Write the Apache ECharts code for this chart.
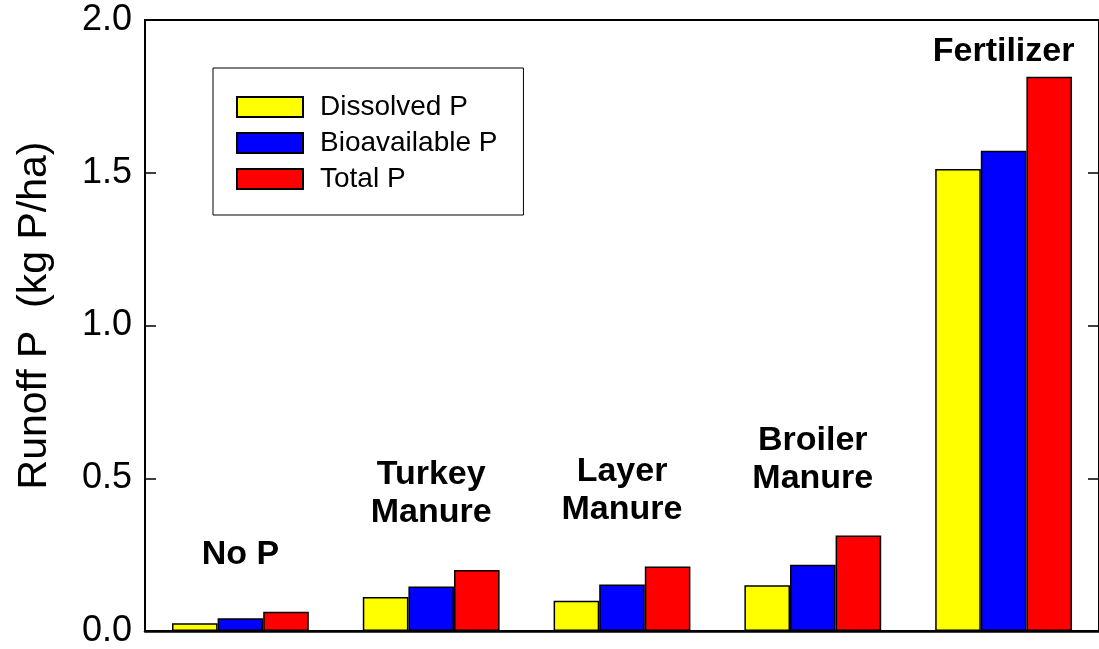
<!DOCTYPE html>
<html>
<head>
<meta charset="utf-8">
<script src="https://cdn.jsdelivr.net/npm/echarts@6/dist/echarts.min.js"></script>
<style>
html,body{margin:0;padding:0;background:#fff;}
#chart{width:1099px;height:649px;}
</style>
</head>
<body>
<div id="chart"></div>
<script>
const categories = ['No P', 'Turkey\nManure', 'Layer\nManure', 'Broiler\nManure', 'Fertilizer'];
const seriesNames = ['Dissolved P', 'Bioavailable P', 'Total P'];
const dissolvedP = [0.025, 0.111, 0.099, 0.150, 1.512];
const bioavailableP = [0.042, 0.146, 0.152, 0.217, 1.572];
const totalP = [0.063, 0.200, 0.211, 0.313, 1.814];
const yTicks = [0, 0.5, 1.0, 1.5, 2.0];

const colors = ['#ffff00', '#0000ff', '#ff0000'];
const FONT = '"Liberation Sans", Arial, sans-serif';

const seriesData = [dissolvedP, bioavailableP, totalP];
const barSeries = seriesData.map((d, k) => ({
  name: seriesNames[k],
  type: 'bar',
  data: d,
  barWidth: 45.6,
  barGap: '0%',
  itemStyle: { color: colors[k], borderColor: '#000', borderWidth: 1.5 },
  emphasis: { disabled: true },
  animation: false
}));

const labelAnchors = categories.map((c, i) => {
  const m = Math.max(dissolvedP[i], bioavailableP[i], totalP[i]);
  const item = { value: [i, m] };
  if (m > 1.7) item.label = { distance: 6 };
  return item;
});

const chart = echarts.init(document.getElementById('chart'), null, { renderer: 'canvas' });
chart.setOption({
  animation: false,
  backgroundColor: '#fff',
  grid: { left: 145, top: 20, width: 962, height: 611, show: true, borderColor: '#000', borderWidth: 2, backgroundColor: 'transparent' },
  legend: {
    data: seriesNames,
    orient: 'vertical',
    left: 213, top: 68,
    padding: [25, 26, 22, 23],
    itemWidth: 66, itemHeight: 20, itemGap: 8,
    borderColor: '#000', borderWidth: 1,
    icon: 'rect',
    textStyle: { fontFamily: FONT, fontSize: 28, color: '#000', padding: [0, 0, 0, 12] },
    selectedMode: false
  },
  xAxis: {
    type: 'category',
    data: categories,
    axisLine: { show: true, lineStyle: { color: '#000', width: 2.5 } },
    axisTick: { show: false },
    axisLabel: { show: false },
    splitLine: { show: false }
  },
  yAxis: [{
    type: 'value',
    min: 0, max: 2, interval: 0.5,
    name: 'Runoff P  (kg P/ha)',
    nameLocation: 'middle',
    nameGap: 90,
    nameTextStyle: { fontFamily: FONT, fontSize: 41, color: '#000', padding: [0, 0, 0, 20] },
    axisLine: { show: true, lineStyle: { color: '#000', width: 2 } },
    axisTick: { show: true, inside: true, length: 11, lineStyle: { color: '#000', width: 1.5 } },
    axisLabel: { fontFamily: FONT, fontSize: 36, color: '#000', margin: 13, formatter: v => v.toFixed(1) },
    splitLine: { show: false }
  }, {
    type: 'value',
    position: 'right',
    min: 0, max: 2, interval: 0.5,
    axisLine: { show: true, lineStyle: { color: '#000', width: 2 } },
    axisTick: { show: true, inside: true, length: 11, lineStyle: { color: '#000', width: 1.5 } },
    axisLabel: { show: false },
    splitLine: { show: false }
  }],
  series: barSeries.concat([{
    type: 'scatter',
    data: labelAnchors,
    symbolSize: 0,
    silent: true,
    itemStyle: { opacity: 1 },
    label: {
      show: true,
      position: 'top',
      distance: 38,
      formatter: p => categories[p.dataIndex],
      fontFamily: FONT, fontSize: 34, fontWeight: 'bold', color: '#000', opacity: 1,
      lineHeight: 38, align: 'center'
    }
  }])
});
</script>
</body>
</html>
